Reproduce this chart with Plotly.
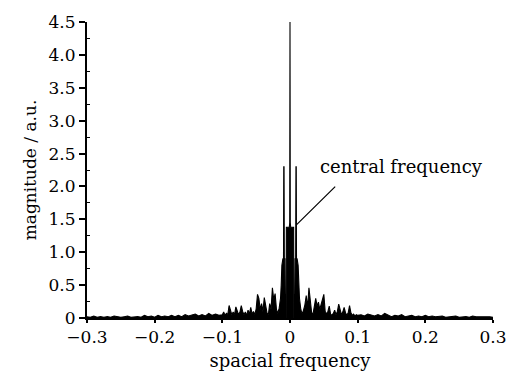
import plotly.graph_objects as go

# ---- data ----
freq_far_left = [-0.300, -0.295, -0.290, -0.285, -0.280, -0.275, -0.270, -0.265, -0.260, -0.255,
                 -0.250, -0.245, -0.240, -0.235, -0.230, -0.225, -0.220, -0.215, -0.210, -0.205,
                 -0.200, -0.195, -0.190, -0.185, -0.180, -0.175, -0.170, -0.165, -0.160, -0.155,
                 -0.150, -0.145, -0.140, -0.135, -0.130, -0.125, -0.120, -0.115, -0.110, -0.105]
mag_far_left = [0.02, 0.01, 0.03, 0.01, 0.02, 0.01, 0.02, 0.01, 0.03, 0.02,
                0.01, 0.02, 0.03, 0.01, 0.02, 0.02, 0.01, 0.04, 0.02, 0.03,
                0.01, 0.04, 0.02, 0.03, 0.02, 0.04, 0.02, 0.04, 0.02, 0.05,
                0.03, 0.04, 0.06, 0.03, 0.05, 0.03, 0.07, 0.04, 0.06, 0.04]

freq_left = [-0.100, -0.098, -0.096, -0.094, -0.092, -0.090, -0.088, -0.086, -0.084, -0.082,
             -0.080, -0.078, -0.076, -0.074, -0.072, -0.070, -0.068, -0.066, -0.064, -0.062,
             -0.060, -0.058, -0.056, -0.054, -0.052, -0.050, -0.048, -0.046, -0.044, -0.042,
             -0.040, -0.038, -0.036, -0.034, -0.032, -0.030, -0.028, -0.026, -0.024, -0.022,
             -0.020, -0.018, -0.016, -0.014]
mag_left = [0.05, 0.09, 0.04, 0.07, 0.05, 0.19, 0.10, 0.05, 0.09, 0.05,
            0.17, 0.12, 0.05, 0.09, 0.19, 0.10, 0.05, 0.09, 0.04, 0.12,
            0.06, 0.16, 0.06, 0.10, 0.05, 0.14, 0.36, 0.30, 0.13, 0.22,
            0.10, 0.31, 0.20, 0.08, 0.05, 0.22, 0.13, 0.46, 0.28, 0.37,
            0.13, 0.07, 0.15, 0.30]

freq_center = [-0.013, -0.012, -0.0105, -0.0096, -0.0092, -0.0088, -0.0084, -0.0076, -0.0072,
               -0.0058, -0.0054, -0.0010, -0.0004, 0.0, 0.0004, 0.0010, 0.0054, 0.0058,
               0.0072, 0.0076, 0.0084, 0.0088, 0.0092, 0.0096, 0.0105, 0.012, 0.013]
mag_center = [0.5, 0.8, 0.9, 0.9, 2.3, 2.3, 0.9, 0.9, 0.0,
              0.0, 1.38, 1.38, 1.45, 4.5, 1.45, 1.38, 1.38, 0.0,
              0.0, 0.9, 0.9, 2.3, 2.3, 0.9, 0.9, 0.8, 0.5]

freq_right = [0.014, 0.016, 0.018, 0.020, 0.022, 0.024, 0.026, 0.028, 0.030, 0.032,
              0.034, 0.036, 0.038, 0.040, 0.042, 0.044, 0.046, 0.048, 0.050, 0.052,
              0.054, 0.056, 0.058, 0.060, 0.062, 0.064, 0.066, 0.068, 0.070, 0.072,
              0.074, 0.076, 0.078, 0.080, 0.082, 0.084, 0.086, 0.088, 0.090, 0.092,
              0.094, 0.096, 0.098, 0.100]
mag_right = [0.30, 0.13, 0.06, 0.12, 0.20, 0.34, 0.16, 0.46, 0.28, 0.08,
             0.06, 0.22, 0.30, 0.18, 0.24, 0.13, 0.22, 0.28, 0.36, 0.10,
             0.06, 0.10, 0.18, 0.06, 0.04, 0.07, 0.12, 0.05, 0.10, 0.21,
             0.10, 0.05, 0.09, 0.16, 0.08, 0.04, 0.08, 0.19, 0.08, 0.04,
             0.06, 0.03, 0.05, 0.04]

freq_far_right = [0.105, 0.110, 0.115, 0.120, 0.125, 0.130, 0.135, 0.140, 0.145, 0.150,
                  0.155, 0.160, 0.165, 0.170, 0.175, 0.180, 0.185, 0.190, 0.195, 0.200,
                  0.205, 0.210, 0.215, 0.220, 0.225, 0.230, 0.235, 0.240, 0.245, 0.250,
                  0.255, 0.260, 0.265, 0.270, 0.275, 0.280, 0.285, 0.290, 0.295, 0.300]
mag_far_right = [0.05, 0.03, 0.06, 0.04, 0.03, 0.05, 0.03, 0.07, 0.04, 0.02,
                 0.04, 0.03, 0.05, 0.02, 0.03, 0.04, 0.02, 0.03, 0.02, 0.04,
                 0.02, 0.03, 0.02, 0.02, 0.03, 0.01, 0.02, 0.02, 0.03, 0.01,
                 0.02, 0.02, 0.01, 0.03, 0.02, 0.02, 0.03, 0.02, 0.02, 0.01]

x_tick_vals = [-0.3, -0.2, -0.1, 0.0, 0.1, 0.2, 0.3]
x_tick_text = ["\u22120.3", "\u22120.2", "\u22120.1", "0", "0.1", "0.2", "0.3"]
y_tick_vals = [0, 0.5, 1.0, 1.5, 2.0, 2.5, 3.0, 3.5, 4.0, 4.5]
y_tick_text = ["0", "0.5", "1.0", "1.5", "2.0", "2.5", "3.0", "3.5", "4.0", "4.5"]
y_minor_vals = [0.25, 0.75, 1.25, 1.75, 2.25, 2.75, 3.25, 3.75, 4.25]

annotation_text = "central frequency"
annotation_point = (0.0098, 1.42)   # where the pointer line touches the spectrum
annotation_tail = (0.069, 2.02)     # upper end of the pointer line
annotation_label_pos = (0.165, 2.30)

freq = freq_far_left + freq_left + freq_center + freq_right + freq_far_right
mag = mag_far_left + mag_left + mag_center + mag_right + mag_far_right

FONT = "DejaVu Serif"

fig = go.Figure()
fig.add_trace(go.Scatter(
    x=freq, y=mag, mode="lines",
    line=dict(color="black", width=1.1),
    fill="tozeroy", fillcolor="black",
    showlegend=False, hoverinfo="skip",
))

fig.add_annotation(
    x=annotation_point[0], y=annotation_point[1],
    ax=annotation_tail[0], ay=annotation_tail[1],
    axref="x", ayref="y", xref="x", yref="y",
    text="", showarrow=True, arrowhead=0, arrowwidth=1.2, arrowcolor="black",
    standoff=0, startstandoff=0,
)
fig.add_annotation(
    x=annotation_label_pos[0], y=annotation_label_pos[1], xref="x", yref="y",
    text=annotation_text, showarrow=False,
    font=dict(family=FONT, size=18, color="black"),
)

fig.update_layout(
    width=519, height=381,
    margin=dict(l=87, r=22, t=15, b=63),
    paper_bgcolor="white", plot_bgcolor="white",
    font=dict(family=FONT, size=17, color="black"),
)
fig.update_xaxes(
    range=[-0.3, 0.3], tickvals=x_tick_vals, ticktext=x_tick_text,
    showgrid=False, zeroline=False, showline=True, linecolor="black", linewidth=2,
    ticks="outside", ticklen=3, tickwidth=1.5, tickcolor="black",
    tickfont=dict(family=FONT, size=17),
    title=dict(text="spacial frequency", font=dict(family=FONT, size=18), standoff=8),
)
fig.update_yaxes(
    range=[0, 4.5], tickvals=y_tick_vals, ticktext=y_tick_text,
    showgrid=False, zeroline=False, showline=True, linecolor="black", linewidth=2,
    ticks="outside", ticklen=6, tickwidth=1.5, tickcolor="black",
    tickfont=dict(family=FONT, size=17),
    minor=dict(tickvals=y_minor_vals, ticks="inside", ticklen=3, tickwidth=1.2,
               tickcolor="black"),
    title=dict(text="magnitude / a.u.", font=dict(family=FONT, size=17), standoff=8),
)

fig.write_html("out.html")
